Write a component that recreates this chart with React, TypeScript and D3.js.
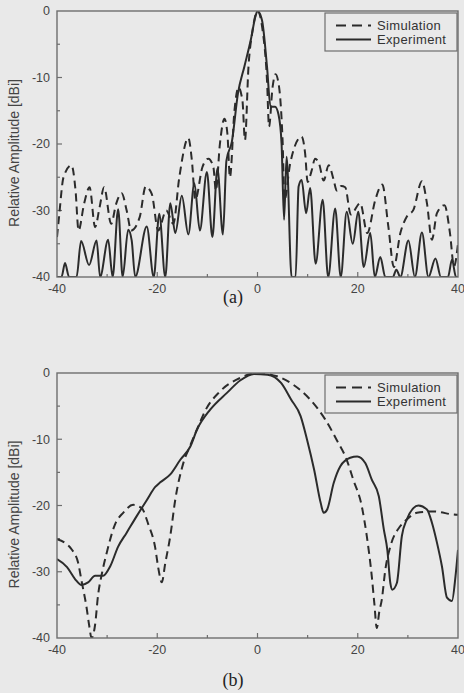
import React from "react";
import * as d3 from "d3";

type Pt = [number, number];

// axis values
const angleLabels = [-40, -20, 0, 20, 40];
const ampLabels = [0, -10, -20, -30, -40];
const legendLabels = ["Simulation", "Experiment"];

// (a) simulation, [angle deg, dBi]
const simA: Pt[] = [
  [-40, -34], [-39.6, -31], [-38.7, -25], [-37.1, -23.2], [-36.3, -27], [-35.7, -33],
  [-34.6, -29], [-33.5, -26.5], [-32.4, -32.5], [-31.5, -29.5], [-30.6, -26.5], [-29.2, -32],
  [-28.2, -29], [-27.1, -27.4], [-26.1, -30], [-25.2, -33], [-23.5, -31], [-22.3, -26.4],
  [-21.1, -27.5], [-19.8, -33], [-18.2, -30], [-16.8, -32], [-15.6, -25], [-13.8, -19.1],
  [-13.1, -22.4], [-12.4, -28.4], [-11, -23.5], [-9.8, -22.2], [-8.8, -23.5], [-8.3, -27],
  [-7.5, -20], [-6.6, -16.2], [-6.0, -18.5], [-5.5, -25], [-4.6, -15], [-3.8, -11.5],
  [-3.0, -13.5], [-2.5, -19.4], [-1.8, -8.4], [-1.0, -3], [0, 0], [1.0, -2.8], [1.9, -10.5],
  [2.3, -17.4], [3.0, -11.5], [3.6, -9.5], [4.3, -11.4], [5.0, -19.4], [5.4, -28.4],
  [6.5, -23], [8.8, -18.9], [9.5, -21.4], [10.0, -25.7], [10.8, -24], [11.5, -22.2],
  [12.3, -23], [13.2, -25.5], [14.2, -23.2], [15.2, -25.4], [15.8, -27], [16.7, -26.3],
  [17.5, -26.5], [18.6, -30.6], [20.5, -28.9], [21.9, -33.4], [23.5, -28.4], [24.9, -26.1],
  [26.1, -32.4], [27.2, -38.5], [28.5, -33.4], [29.8, -30.9], [31.1, -29.9], [32.8, -25.6],
  [33.8, -28.9], [34.8, -34.4], [35.8, -30.4], [37.3, -29.2], [38.4, -33.4], [39.2, -38.4],
  [40, -35],
];

// (a) experiment
const expA: Pt[] = [
  [-40, -40], [-39.1, -40], [-38.4, -37.9], [-37.6, -40], [-36.1, -40], [-35.2, -34.6],
  [-33.6, -38.2], [-32.1, -34.5], [-31.4, -40], [-29.8, -34.4], [-28.9, -40], [-27.8, -29.8],
  [-26.9, -40], [-25.8, -32.9], [-25.1, -34.5], [-24.4, -40], [-22.1, -32.4], [-20.7, -40],
  [-19.6, -30.5], [-18.4, -40], [-17.4, -28.9], [-16.4, -33.4], [-15.1, -27.8], [-13.8, -33.6],
  [-12.6, -25.9], [-11.5, -33], [-10.1, -24.2], [-9.0, -34], [-8.0, -23.7], [-6.9, -33.6],
  [-6.2, -22.5], [-5.1, -19.6], [-3.9, -12.4], [-2.6, -8.3], [-1.3, -4.2], [-0.4, -0.8],
  [0, 0], [0.9, -1.4], [1.9, -8.4], [2.6, -14.4], [3.5, -14.4], [4.2, -15.6], [4.8, -19.9],
  [5.3, -31.4], [5.8, -21.9], [6.8, -40], [7.6, -40], [8.2, -26.4], [8.8, -25.4],
  [9.7, -30.4], [10.5, -26.6], [11.6, -38], [13.0, -28.4], [14.1, -40], [15.5, -29.7],
  [16.6, -40], [17.8, -30.2], [19.0, -35], [20.1, -30.2], [21.2, -38.5], [22.5, -33.4],
  [23.4, -40], [24.5, -37], [25.5, -40], [27.0, -40], [27.7, -38.9], [28.5, -40],
  [30.1, -34.5], [31.4, -40], [32.8, -33.3], [34.1, -40], [35.5, -37.2], [36.6, -40],
  [38.0, -40], [38.8, -37.4], [39.6, -40], [40, -40],
];

// (b) simulation
const simB: Pt[] = [
  [-40, -25.1], [-38.5, -25.6], [-37.1, -26.6], [-35.8, -28.6], [-35.1, -31.4], [-34.1, -35.4],
  [-33.6, -38], [-33.1, -40], [-32.4, -38], [-31.8, -33.5], [-31.1, -30.5], [-30.1, -27.2],
  [-28.4, -22.8], [-26.8, -21.1], [-24.8, -19.9], [-23.1, -20.4], [-21.8, -22.8], [-20.4, -26.4],
  [-19.8, -29.4], [-19.1, -31.6], [-18.4, -28.7], [-17.4, -24.6], [-16.4, -19.1], [-14.8, -13.6],
  [-13.5, -11.1], [-11.5, -7.5], [-10.5, -5.8], [-7.5, -2.8], [-3.5, -0.75], [0, 0],
  [3.9, -0.5], [7.2, -1.8], [10.5, -4.0], [13.5, -7.0], [15.8, -10.1], [17.8, -13.1],
  [19.1, -16.1], [20.8, -20.1], [21.8, -24.6], [22.8, -30.7], [23.3, -34.7], [23.8, -38.5],
  [24.3, -36], [24.8, -34.2], [25.5, -29.7], [26.5, -26.2], [28.5, -23.1], [29.8, -22.1],
  [31.8, -21.1], [35.1, -20.9], [39.8, -21.4], [40, -21.4],
];

// (b) experiment
const expB: Pt[] = [
  [-40, -28.1], [-38, -29.3], [-36.4, -31.1], [-35.1, -32], [-33.8, -31.6], [-32.4, -30.6],
  [-30.8, -30.6], [-29.4, -29.2], [-27.8, -26.2], [-26.1, -24.1], [-24.1, -21.6], [-22.1, -19.2],
  [-20.4, -17.2], [-19.4, -16.5], [-17.4, -15.3], [-15.4, -13.1], [-13.4, -11.1], [-12.1, -8.6],
  [-9.4, -5.5], [-6.1, -3.0], [-3.4, -1.1], [-0.7, -0.15], [2.0, -0.25], [4.7, -1.5],
  [6.7, -4.0], [8.6, -6.5], [9.9, -10.1], [11.3, -14.6], [12.6, -19.6], [13.2, -21.1],
  [13.9, -20.6], [15.2, -16.6], [16.5, -14.1], [18.5, -12.8], [19.9, -12.6], [21.5, -13.6],
  [22.8, -16.1], [24.2, -18.6], [25.2, -23.6], [25.9, -26.7], [26.5, -31.7], [26.9, -32.7],
  [27.8, -31.7], [28.8, -24.6], [29.8, -22.1], [31.1, -20.4], [32.1, -20.0], [33.8, -20.6],
  [34.8, -22.6], [35.8, -25.6], [36.8, -29.2], [37.8, -33.9], [38.8, -34.4], [39.5, -30.7],
  [40, -26.7],
];

const W = 464;
const H = 693;
const FRAME = "#6e6e6e";
const INK = "#2b2b2b";
const SANS = "Arial, 'Liberation Sans', sans-serif";

function Panel({ id, top, bottom, sim, exp, caption, captionY }: any) {
  const left = 57;
  const right = 458;
  const x = d3.scaleLinear().domain([-40, 40]).range([left, right]);
  const y = d3.scaleLinear().domain([-40, 0]).range([bottom, top]);
  const line = d3
    .line<Pt>()
    .x((d) => x(d[0]))
    .y((d) => y(d[1]))
    .curve(d3.curveMonotoneX);

  const xTicks = d3.range(-30, 40, 10);
  const yTicks = d3.range(-35, 0, 5);
  const midY = (top + bottom) / 2;

  const lx = 325;
  const ly = top + 2;

  return (
    <g>
      <defs>
        <clipPath id={id}>
          <rect x={left} y={top} width={right - left} height={bottom - top} />
        </clipPath>
      </defs>
      {xTicks.map((t) => (
        <line key={"xt" + t} x1={x(t)} x2={x(t)} y1={bottom} y2={bottom - (t % 20 === 0 ? 5 : 3)} stroke={FRAME} strokeWidth={1.2} />
      ))}
      {yTicks.map((t) => (
        <line key={"yt" + t} x1={left} x2={left + (t % 10 === 0 ? 5 : 3)} y1={y(t)} y2={y(t)} stroke={FRAME} strokeWidth={1.2} />
      ))}
      <g clipPath={`url(#${id})`} fill="none">
        <path d={line(sim) || ""} stroke={INK} strokeWidth={2} strokeDasharray="8,5" />
        <path d={line(exp) || ""} stroke={INK} strokeWidth={2} />
      </g>
      <rect x={left} y={top} width={right - left} height={bottom - top} fill="none" stroke={FRAME} strokeWidth={1.4} />
      {ampLabels.map((t) => (
        <text key={"yl" + t} x={left - 7} y={y(t)} dy="0.35em" textAnchor="end" fontSize={12.5} fill="#444" fontFamily={SANS}>
          {t}
        </text>
      ))}
      {angleLabels.map((t) => (
        <text key={"xl" + t} x={x(t)} y={bottom + 16} textAnchor="middle" fontSize={12.5} fill="#444" fontFamily={SANS}>
          {t}
        </text>
      ))}
      <text
        transform={`translate(19,${midY + 9}) rotate(-90)`}
        textAnchor="middle"
        fontSize={14}
        fill="#444"
        fontFamily={SANS}
      >
        Relative Amplitude [dBi]
      </text>
      <rect x={lx} y={ly} width={right - 1 - lx} height={38} fill="none" stroke={FRAME} strokeWidth={1.2} />
      <line x1={lx + 11} x2={lx + 46} y1={ly + 12.5} y2={ly + 12.5} stroke={INK} strokeWidth={2} strokeDasharray="10,6" />
      <line x1={lx + 11} x2={lx + 46} y1={ly + 26.5} y2={ly + 26.5} stroke={INK} strokeWidth={2} />
      {legendLabels.map((s, i) => (
        <text key={s} x={lx + 52} y={ly + 17 + i * 14} fontSize={13} letterSpacing={0.35} fill="#333" fontFamily={SANS}>
          {s}
        </text>
      ))}
      <text x={233} y={captionY} textAnchor="middle" fontSize={18} fill="#222" fontFamily="'Liberation Serif', 'Times New Roman', serif">
        {caption}
      </text>
    </g>
  );
}

export default function App() {
  return (
    <svg width={W} height={H} style={{ position: "absolute", left: 0, top: 0 }}>
      <rect width={W} height={H} fill="#e9e9e9" />
      <Panel id="clipA" top={11} bottom={277} sim={simA} exp={expA} caption="(a)" captionY={303} />
      <Panel id="clipB" top={373} bottom={638} sim={simB} exp={expB} caption="(b)" captionY={686} />
    </svg>
  );
}
